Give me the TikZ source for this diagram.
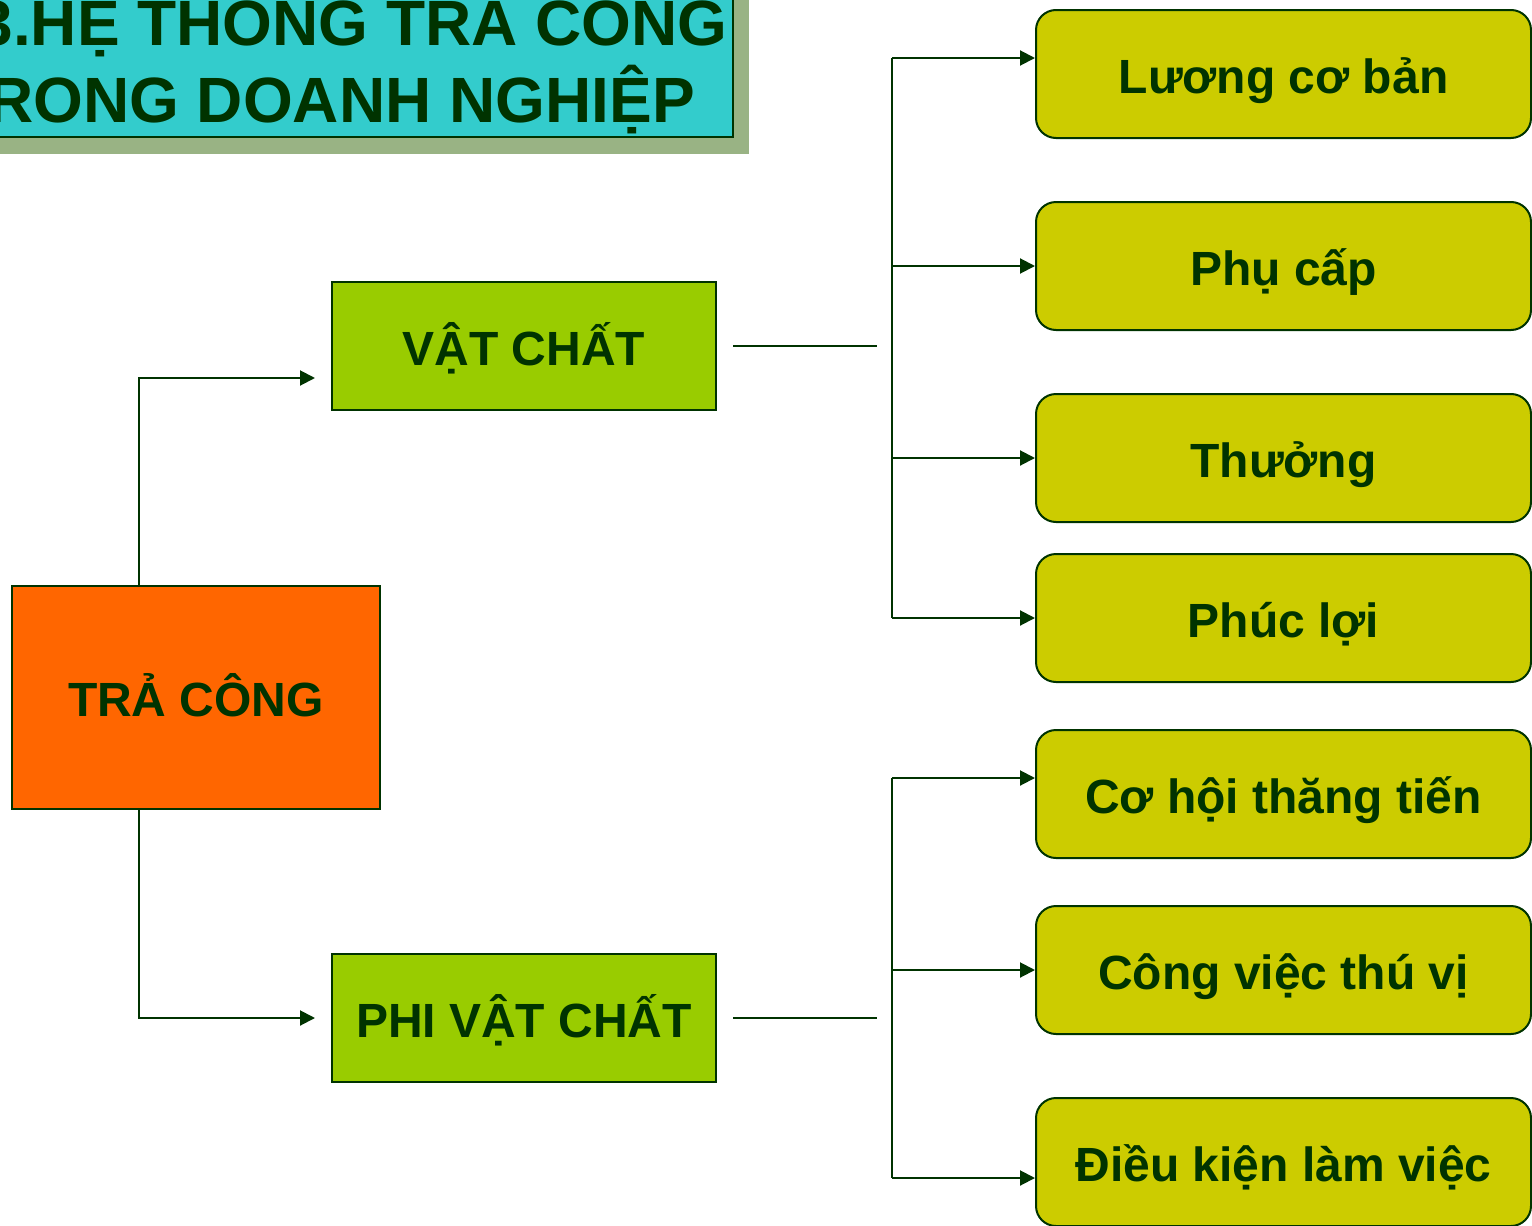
\documentclass[tikz,border=0pt]{standalone}
\usepackage{fontspec}
\setmainfont{Liberation Sans}
\usetikzlibrary{calc,arrows.meta}
\definecolor{DarkGreen}{HTML}{003300}
\definecolor{TitleFill}{HTML}{33CCCC}
\definecolor{TitleShadow}{HTML}{99B384}
\definecolor{RootFill}{HTML}{FF6600}
\definecolor{MidFill}{HTML}{99CC00}
\definecolor{LeafFill}{HTML}{CCCC00}
\tikzset{%
	% Style of the box text
	BoxText/.style={font=\fontsize{48}{56}\selectfont\bfseries,text=DarkGreen,text height=38pt,text depth=0pt,inner sep=0},
	% Style of the root box
	RootBox/.style={BoxText,draw=DarkGreen,line width=2pt,fill=RootFill,minimum width=368pt,minimum height=223pt},
	% Style of the middle boxes
	MidBox/.style={BoxText,draw=DarkGreen,line width=2pt,fill=MidFill,minimum width=384pt,minimum height=128pt},
	% Style of the leaf boxes
	LeafBox/.style={BoxText,draw=DarkGreen,line width=2pt,fill=LeafFill,rounded corners=20pt,minimum width=495pt,minimum height=128pt},
	% Style of the title lines
	TitleLine/.style={font=\fontsize{64}{70}\selectfont\bfseries,text=DarkGreen,inner sep=0},
	% Style of the plain lines
	Link/.style={draw=DarkGreen,line width=2pt},
	% Style of the arrows
	Arrow/.style={Link,-{Triangle[length=15pt,width=15pt]}},
}
\begin{document}
\begin{tikzpicture}[x=1pt,y=-1pt] % STYLES
\clip (0,0) rectangle (1532,1226);

%~~~~~~~~~~~~~~~~~~~~~~~~~~~~~~~~~~~~~~~~~~~~~~~~~~
% Title
%~~~~~~~~~~~~~~~~~~~~~~~~~~~~~~~~~~~~~~~~~~~~~~~~~~
\fill[TitleShadow] (-40,-40) rectangle (749,154);
\filldraw[fill=TitleFill,draw=DarkGreen,line width=2pt] (-40,-40) rectangle (733,137);
\node[TitleLine,anchor=base east] (T1) at (728,45) {3.HỆ THỐNG TRẢ CÔNG};
\node[TitleLine,anchor=base east] (T2) at (695,122) {TRONG DOANH NGHIỆP};

%~~~~~~~~~~~~~~~~~~~~~~~~~~~~~~~~~~~~~~~~~~~~~~~~~~
% Set Boxes
%~~~~~~~~~~~~~~~~~~~~~~~~~~~~~~~~~~~~~~~~~~~~~~~~~~
\node[RootBox] (Root) at (196,697.5) {TRẢ CÔNG};

\node[MidBox] (Mat) at (524,346) {VẬT CHẤT};
\node[MidBox] (NonMat) at (524,1018) {PHI VẬT CHẤT};

\node[LeafBox] (L1) at (1283.5,74) {Lương cơ bản};
\node[LeafBox] (L2) at (1283.5,266) {Phụ cấp};
\node[LeafBox] (L3) at (1283.5,458) {Thưởng};
\node[LeafBox] (L4) at (1283.5,618) {Phúc lợi};
\node[LeafBox] (L5) at (1283.5,794) {Cơ hội thăng tiến};
\node[LeafBox] (L6) at (1283.5,970) {Công việc thú vị};
\node[LeafBox] (L7) at (1283.5,1162) {Điều kiện làm việc};

%~~~~~~~~~~~~~~~~~~~~~~~~~~~~~~~~~~~~~~~~~~~~~~~~~~
% Set Branches
%~~~~~~~~~~~~~~~~~~~~~~~~~~~~~~~~~~~~~~~~~~~~~~~~~~
%Branch from Root to Mat and NonMat
\draw[Arrow] ($(Root.north west)+(128,0)$) |- ($(Mat.west)+(-16,32)$);
\draw[Arrow] ($(Root.south west)+(128,0)$) |- ($(NonMat.west)+(-16,0)$);

%Stubs after Mat and NonMat
\coordinate (S1a) at ($(Mat.east)+(16,0)$);
\coordinate (S1b) at ($(Mat.east)+(160,0)$);
\coordinate (S2a) at ($(NonMat.east)+(16,0)$);
\coordinate (S2b) at ($(NonMat.east)+(160,0)$);
\draw[Link] (S1a) -- (S1b);
\draw[Link] (S2a) -- (S2b);

%Bus to the leaves of Mat
\coordinate (V1top) at (892,58);
\coordinate (V1bot) at (892,618);
\draw[Link] (V1top) -- (V1bot);
\draw[Arrow] (V1top) -- (V1top -| L1.west);
\draw[Arrow] (L2.west -| V1top) -- (L2.west);
\draw[Arrow] (L3.west -| V1top) -- (L3.west);
\draw[Arrow] (V1bot) -- (L4.west);

%Bus to the leaves of NonMat
\coordinate (V2top) at (892,778);
\coordinate (V2bot) at (892,1178);
\draw[Link] (V2top) -- (V2bot);
\draw[Arrow] (V2top) -- (V2top -| L5.west);
\draw[Arrow] (L6.west -| V2top) -- (L6.west);
\draw[Arrow] (V2bot) -- (V2bot -| L7.west);

\end{tikzpicture}
\end{document}
